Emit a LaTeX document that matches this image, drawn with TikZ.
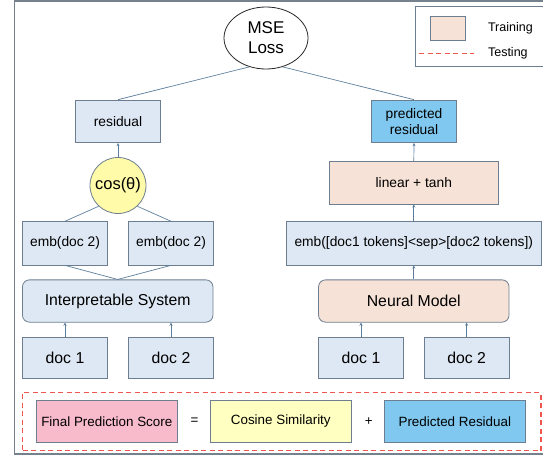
\documentclass[tikz,border=0pt]{standalone}
\usepackage{fontspec}
\setmainfont{Liberation Sans}
\usetikzlibrary{arrows.meta,shapes.geometric}
\definecolor{boxblue}{HTML}{DEE8F4}
\definecolor{edge}{HTML}{6C7E90}
\definecolor{peach}{HTML}{F6E2D6}
\definecolor{predblue}{HTML}{80C8EF}
\definecolor{yel}{HTML}{FFFBA8}
\definecolor{yelbox}{HTML}{FFFFC2}
\definecolor{pinkbox}{HTML}{F8BBCB}
\definecolor{link}{HTML}{5C7E9C}
\definecolor{testred}{HTML}{F0554E}
\definecolor{frame}{HTML}{75828E}
\tikzset{
  box/.style={draw=edge, fill=boxblue, line width=0.8pt, inner sep=0pt, minimum height=42.5pt, align=center, text=black},
  conn/.style={draw=link, line width=0.7pt},
  arr/.style={conn, -{Stealth[length=3.2pt,width=3pt]}},
  small/.style={font=\fontsize{13.8}{16}\selectfont},
  big/.style={font=\fontsize{15.8}{18}\selectfont},
  testline/.style={draw=testred, line width=1.2pt, dash pattern=on 5pt off 3.5pt},
}
\begin{document}
\begin{tikzpicture}[x=1pt,y=-1pt]
\useasboundingbox (0,0) rectangle (543,455);
% outer frame
\draw[frame, line width=1.2pt] (14.5,1) rectangle (620,454);

% legend
\node[draw=edge, line width=0.9pt, fill=white, minimum width=160pt, minimum height=60pt, inner sep=0pt] (legend) at (495.5,36) {};
\node[box, fill=peach, minimum width=35pt, minimum height=24pt] (swatch) at (447.5,28.5) {};
\node[anchor=west, font=\fontsize{12.5}{15}\selectfont] (train) at (484.5,28) {Training};
\coordinate (tl1) at (419,53.5);
\coordinate (tl2) at (474,53.5);
\draw[color=testred, line width=1.6pt, dash pattern=on 5pt off 3.5pt] (tl1) -- (tl2);
\node[anchor=west, font=\fontsize{12.5}{15}\selectfont] (test) at (484.5,53) {Testing};

% MSE
\node[ellipse, draw=black!85, line width=0.8pt, fill=white, minimum width=84pt, minimum height=62pt, inner sep=0pt, align=center, font=\fontsize{17}{20}\selectfont] (mse) at (266,38) {MSE\\Loss};

% left branch
\node[box, small, minimum width=84.5pt] (res) at (118,121.3) {residual};
\node[circle, draw=edge, line width=0.8pt, fill=yel, minimum size=56pt, inner sep=0pt, font=\fontsize{16.5}{19}\selectfont] (cos) at (118,185.5) {cos(θ)};
\node[box, small, minimum width=85pt, minimum height=43.3pt] (embL) at (65,243.3) {emb(doc 2)};
\node[box, small, minimum width=85pt, minimum height=43.3pt] (embR) at (171,243.3) {emb(doc 2)};
\node[box, big, rounded corners=7pt, minimum width=190.5pt, minimum height=42.3pt] (interp) at (117.7,301) {Interpretable System};
\node[box, big, minimum width=85pt, minimum height=41.7pt] (docL1) at (65,358) {doc 1};
\node[box, big, minimum width=85pt, minimum height=41.7pt] (docL2) at (171,358) {doc 2};

% right branch
\node[box, small, fill=predblue, minimum width=85pt] (pres) at (414,121.3) {predicted\\residual};
\node[box, small, fill=peach, minimum width=169.6pt, minimum height=42.3pt] (lin) at (413.8,182.8) {linear + tanh};
\node[box, small, minimum width=254.2pt, minimum height=43.3pt] (embLong) at (413.8,243.3) {emb([doc1 tokens]<sep>[doc2 tokens])};
\node[box, big, fill=peach, rounded corners=7pt, minimum width=190.5pt, minimum height=42.3pt] (neural) at (413.8,301) {Neural Model};
\node[box, big, minimum width=85pt, minimum height=41.7pt] (docR1) at (361,358) {doc 1};
\node[box, big, minimum width=85pt, minimum height=41.7pt] (docR2) at (466.6,358) {doc 2};

% connectors
\draw[conn] (mse.240) -- (res.north);
\draw[conn] (mse.300) -- (pres.north);
\draw[arr] (cos.north) -- (res.south);
\draw[conn] (cos.227) -- (embL.north);
\draw[conn] (cos.313) -- (embR.north);
\draw[conn] (embL.south) -- (interp.north);
\draw[conn] (embR.south) -- (interp.north);
\draw[arr] (docL1.north) -- (docL1.north |- interp.south);
\draw[arr] (docL2.north) -- (docL2.north |- interp.south);
\draw[arr] (lin.north) -- (pres.south);
\draw[arr] (embLong.north) -- (lin.south);
\draw[arr] (neural.north) -- (embLong.south);
\draw[arr] (docR1.north) -- (docR1.north |- neural.south);
\draw[arr] (docR2.north) -- (docR2.north |- neural.south);

% testing formula
\node[testline, minimum width=518.4pt, minimum height=58pt, inner sep=0pt] (testing) at (281.7,421.7) {};
\node[box, fill=pinkbox, font=\fontsize{13.4}{16}\selectfont, minimum width=141pt, minimum height=42.7pt] (final) at (106.8,421.3) {Final Prediction Score};
\node[font=\fontsize{13.4}{16}\selectfont] (eq) at (194.6,421.3) {=};
\node[box, fill=yelbox, font=\fontsize{13.4}{16}\selectfont, minimum width=141pt, minimum height=42.7pt] (cosb) at (280.8,421.3) {Cosine Similarity};
\node[font=\fontsize{13.4}{16}\selectfont] (plus) at (368.8,421.3) {+};
\node[box, fill=predblue, font=\fontsize{13.4}{16}\selectfont, minimum width=141pt, minimum height=42.7pt] (predb) at (454.8,421.3) {Predicted Residual};
\end{tikzpicture}
\end{document}
